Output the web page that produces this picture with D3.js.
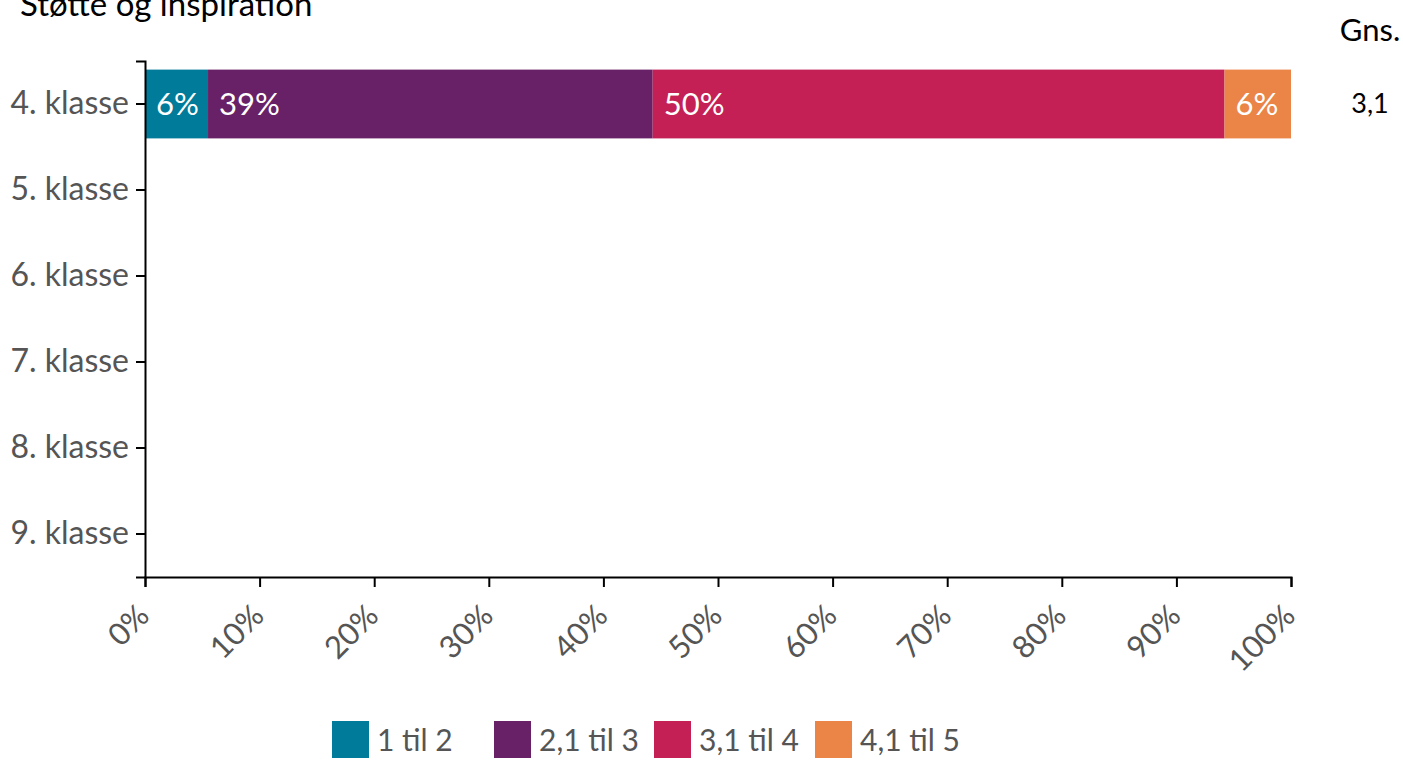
<!DOCTYPE html>
<html>
<head>
<meta charset="utf-8">
<script src="https://cdn.jsdelivr.net/npm/d3@7"></script>
<style>
  body { margin: 0; background: #fff; }
  svg { font-family: Lato, "Open Sans", sans-serif; }
</style>
</head>
<body>
<div id="chart"></div>
<script>
// data
var grades = ["4. klasse", "5. klasse", "6. klasse", "7. klasse", "8. klasse", "9. klasse"];
var seriesNames = ["1 til 2", "2,1 til 3", "3,1 til 4", "4,1 til 5"];
var seriesColors = ["#007b9a", "#682167", "#c42056", "#ea8447"];
// percentages per series for 4. klasse (the other grades have no answers)
var values4 = [5.5, 38.8, 49.9, 5.8];
var averages = ["3,1"];
var xTicks = [0, 10, 20, 30, 40, 50, 60, 70, 80, 90, 100];

var width = 1403, height = 761;
var svg = d3.select("#chart").append("svg")
  .attr("width", width)
  .attr("height", height);

var x = d3.scaleLinear().domain([0, 100]).range([145, 1291]);
var y = d3.scaleBand().domain(grades).range([61, 577])
  .paddingInner(0.2).paddingOuter(0.1);

// title (cut at the top like the original)
svg.append("text")
  .attr("x", 20).attr("y", 16)
  .attr("font-size", "33px")
  .attr("fill", "#000")
  .text("Støtte og inspiration");

// stacked bar for 4. klasse
var rows = [{ grade: grades[0], vals: values4 }];
var segs = [];
rows.forEach(function (r) {
  var acc = 0;
  r.vals.forEach(function (v, i) {
    segs.push({ grade: r.grade, x0: acc, x1: acc + v, v: v, i: i });
    acc += v;
  });
});

svg.selectAll("rect.seg")
  .data(segs)
  .enter()
  .append("rect")
  .attr("class", "seg")
  .attr("x", function (d) { return x(d.x0); })
  .attr("y", function (d) { return y(d.grade); })
  .attr("width", function (d) { return x(d.x1) - x(d.x0); })
  .attr("height", y.bandwidth())
  .attr("fill", function (d) { return seriesColors[d.i]; });

svg.selectAll("text.seglabel")
  .data(segs)
  .enter()
  .append("text")
  .attr("class", "seglabel")
  .attr("x", function (d) { return x(d.x0) + 11; })
  .attr("y", function (d) { return y(d.grade) + y.bandwidth() / 2; })
  .attr("dy", "0.35em")
  .attr("font-size", "31px")
  .attr("fill", "#fff")
  .text(function (d) { return Math.round(d.v) + "%"; });

// averages column
svg.append("text")
  .attr("x", 1370).attr("y", 41)
  .attr("text-anchor", "middle")
  .attr("font-size", "31px")
  .attr("fill", "#000")
  .text("Gns.");

svg.selectAll("text.avg")
  .data(averages)
  .enter()
  .append("text")
  .attr("class", "avg")
  .attr("x", 1370)
  .attr("y", function (d, i) { return y(grades[i]) + y.bandwidth() / 2; })
  .attr("dy", "0.35em")
  .attr("text-anchor", "middle")
  .attr("font-size", "27px")
  .attr("fill", "#000")
  .text(function (d) { return d; });

// axes
var yAxis = svg.append("g")
  .attr("transform", "translate(145,0)")
  .call(d3.axisLeft(y).tickSizeOuter(0).tickSize(9).tickPadding(7));
yAxis.select(".domain").attr("stroke", "#000").attr("stroke-width", 2);
yAxis.selectAll(".tick line").attr("stroke", "#000").attr("stroke-width", 2);
yAxis.selectAll(".tick text")
  .attr("font-size", "32px")
  .attr("font-family", "Lato, sans-serif")
  .attr("fill", "#555");

var xAxis = svg.append("g")
  .attr("transform", "translate(0,577)")
  .call(d3.axisBottom(x).tickValues(xTicks).tickSizeOuter(0).tickSize(10)
    .tickFormat(function (d) { return d + "%"; }));
xAxis.select(".domain").attr("stroke", "#000").attr("stroke-width", 2);
xAxis.selectAll(".tick line").attr("stroke", "#000").attr("stroke-width", 2);
xAxis.selectAll(".tick text")
  .attr("font-size", "31px")
  .attr("font-family", "Lato, sans-serif")
  .attr("fill", "#555")
  .attr("text-anchor", "end")
  .attr("y", 0)
  .attr("dy", "0.35em")
  .attr("transform", "translate(-2,33) rotate(-45)");

// legend
var legendX = [332, 494, 654, 815];
var legend = svg.selectAll("g.legend")
  .data(seriesNames)
  .enter()
  .append("g")
  .attr("class", "legend")
  .attr("transform", function (d, i) { return "translate(" + legendX[i] + ",721)"; });
legend.append("rect")
  .attr("width", 37).attr("height", 37)
  .attr("fill", function (d, i) { return seriesColors[i]; });
legend.append("text")
  .attr("x", 45).attr("y", 19)
  .attr("dy", "0.35em")
  .attr("font-size", "30px")
  .attr("fill", "#555")
  .text(function (d) { return d; });
</script>
</body>
</html>
